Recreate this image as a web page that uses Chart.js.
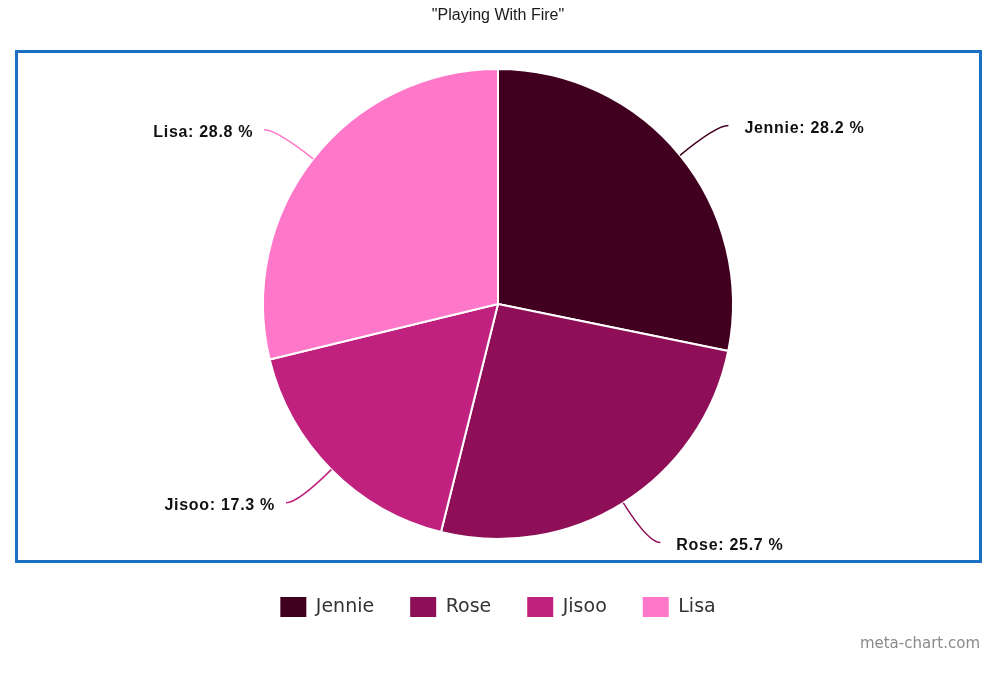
<!DOCTYPE html>
<html>
<head>
<meta charset="utf-8">
<script src="https://cdn.jsdelivr.net/npm/chart.js@4"></script>
<style>
  html, body { margin: 0; padding: 0; background: #fff; }
  canvas { display: block; }
</style>
</head>
<body>
<canvas id="pie" width="1005" height="680"></canvas>
<script>
const 名字 = ['Jennie', 'Rose', 'Jisoo', 'Lisa']
const 占比 = [28.2, 25.7, 17.3, 28.8]
const 颜色 = ['#420020', '#8e0f57', '#c0207e', '#ff77c8']
const 标题 = '"Playing With Fire"'
const 水印 = 'meta-chart.com'

// blue frame round the pie
const 边框插件 = {
  id: 'frame',
  beforeDraw(chart){
    const ctx = chart.ctx
    ctx.save()
    ctx.strokeStyle = '#1a70c2'
    ctx.lineWidth = 3
    ctx.strokeRect(16.5, 51.5, 964, 510)
    ctx.restore()
  }
}

// curved leader lines + "name: value %" labels
const 标签插件 = {
  id: 'sliceLabels',
  afterDatasetsDraw(chart){
    const ctx = chart.ctx
    const meta = chart.getDatasetMeta(0)
    meta.data.forEach((arc, i)=>{
      const p = arc.getProps(['x','y','startAngle','endAngle','outerRadius'], true)
      const mid = (p.startAngle + p.endAngle) / 2
      const cos = Math.cos(mid), sin = Math.sin(mid)
      const right = cos >= 0
      const sx = p.x + cos * p.outerRadius, sy = p.y + sin * p.outerRadius
      const cx = p.x + cos * p.outerRadius * 1.2, cy = p.y + sin * p.outerRadius * 1.2
      const ex = cx + (right ? 12 : -12), ey = cy
      ctx.save()
      ctx.strokeStyle = 颜色[i]
      ctx.lineWidth = 1.5
      ctx.beginPath()
      ctx.moveTo(sx, sy)
      ctx.quadraticCurveTo(cx, cy, ex, ey)
      ctx.stroke()
      ctx.fillStyle = '#111'
      ctx.font = 'bold 16px "Liberation Sans", Arial, sans-serif'
      ctx.letterSpacing = '0.7px'
      ctx.textBaseline = 'middle'
      ctx.textAlign = right ? 'left' : 'right'
      const txt = 名字[i] + ': ' + 占比[i].toFixed(1) + ' %'
      ctx.fillText(txt, ex + (right ? 16 : -11), ey + 3)
      ctx.restore()
    })
  }
}

const 水印插件 = {
  id: 'watermark',
  afterDraw(chart){
    const ctx = chart.ctx
    ctx.save()
    ctx.fillStyle = '#8a8a8a'
    ctx.font = '15px "DejaVu Sans", sans-serif'
    ctx.textAlign = 'right'
    ctx.textBaseline = 'middle'
    ctx.fillText(水印, 980, 644)
    ctx.restore()
  }
}

new Chart(document.getElementById('pie'), {
  type: 'pie',
  data: {
    labels: 名字,
    datasets: [{
      data: 占比,
      backgroundColor: 颜色,
      borderColor: '#ffffff',
      borderWidth: 2,
      hoverOffset: 0,
      radius: 235
    }]
  },
  options: {
    responsive: false,
    animation: false,
    layout: { padding: { left: 0, right: 9, top: 0, bottom: 53 } },
    plugins: {
      tooltip: { enabled: false },
      title: {
        display: true,
        text: 标题,
        color: '#1a1a1a',
        font: { family: '"Liberation Sans", Arial, sans-serif', size: 16, weight: 'normal' },
        padding: { top: 6, bottom: 21.8 }
      },
      legend: {
        position: 'bottom',
        labels: {
          boxWidth: 26,
          boxHeight: 20,
          padding: 36,
          color: '#333',
          font: { family: '"DejaVu Sans", sans-serif', size: 19 },
          generateLabels(chart){
            const items = Chart.overrides.pie.plugins.legend.labels.generateLabels(chart)
            items.forEach(x=>{ x.lineWidth = 0 })
            return items
          }
        }
      }
    }
  },
  plugins: [边框插件, 标签插件, 水印插件]
})
</script>
</body>
</html>
